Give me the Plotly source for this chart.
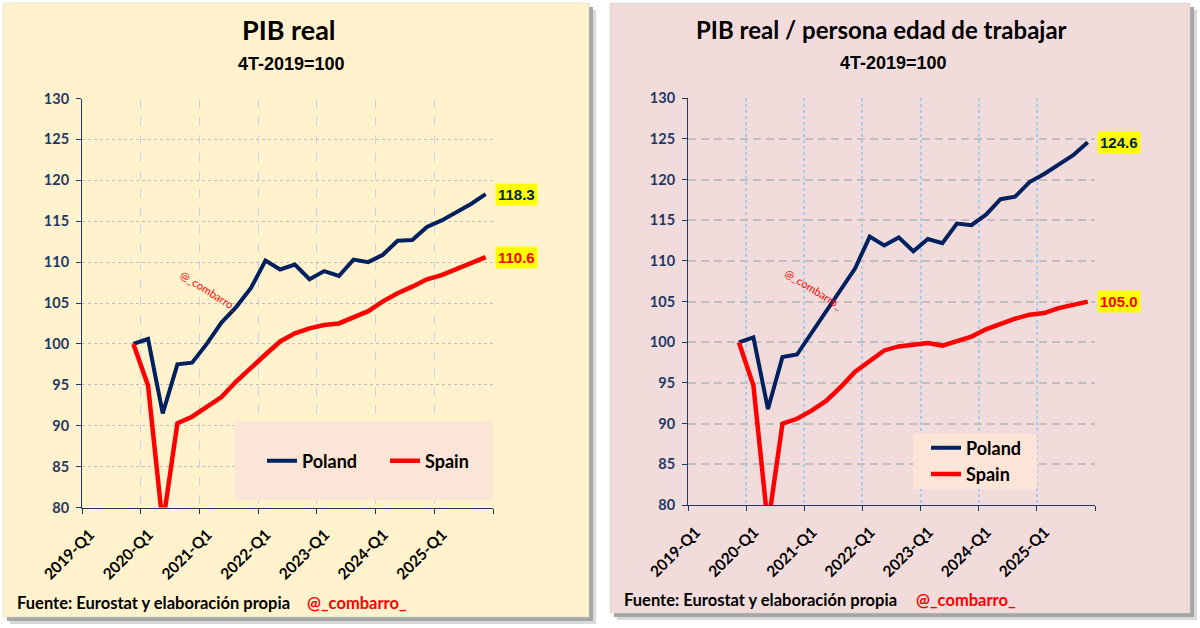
import plotly.graph_objects as go

# ---------------- data ----------------
quarters = ["2019-Q4",
            "2020-Q1", "2020-Q2", "2020-Q3", "2020-Q4",
            "2021-Q1", "2021-Q2", "2021-Q3", "2021-Q4",
            "2022-Q1", "2022-Q2", "2022-Q3", "2022-Q4",
            "2023-Q1", "2023-Q2", "2023-Q3", "2023-Q4",
            "2024-Q1", "2024-Q2", "2024-Q3", "2024-Q4",
            "2025-Q1", "2025-Q2", "2025-Q3", "2025-Q4"]

tick_labels = ["2019-Q1", "2020-Q1", "2021-Q1", "2022-Q1", "2023-Q1", "2024-Q1", "2025-Q1"]
axis_end = "2026-Q1"

gdp_poland = [100.0, 100.6, 91.5, 97.5, 97.7, 100.0, 102.6, 104.5, 106.8, 110.2, 109.1, 109.7,
              107.9, 108.9, 108.3, 110.3, 110.0, 110.9, 112.6, 112.7, 114.3, 115.1, 116.1, 117.1, 118.3]
gdp_spain = [100.0, 94.9, 77.9, 90.3, 91.1, 92.3, 93.5, 95.4, 97.1, 98.7, 100.3, 101.3,
             101.9, 102.3, 102.5, 103.3, 104.0, 105.2, 106.2, 107.0, 107.9, 108.4, 109.1, 109.9, 110.6]

wa_poland = [100.0, 100.6, 91.8, 98.2, 98.5, 101.2, 103.9, 106.6, 109.1, 113.0, 111.9, 112.9,
             111.2, 112.7, 112.2, 114.6, 114.4, 115.7, 117.6, 117.9, 119.7, 120.7, 121.8, 123.0, 124.6]
wa_spain = [100.0, 94.7, 77.5, 90.0, 90.6, 91.6, 92.8, 94.5, 96.4, 97.7, 99.0, 99.5,
            99.7, 99.9, 99.6, 100.2, 100.7, 101.6, 102.3, 102.9, 103.4, 103.6, 104.2, 104.6, 105.0]

series_names = ["Poland", "Spain"]
titles = ["PIB real", "PIB real / persona edad de trabajar"]
subtitle = "4T-2019=100"
source = "Fuente: Eurostat y elaboración propia"
handle = "@_combarro_"

# ---------------- style ----------------
W, H = 1200, 628
NAVY = "#002060"
RED = "#FF0000"
AXIS = "#1F3864"
CAL = "Lato"
ARIAL = "Liberation Sans"


def qpos(q):
    """Position on the quarterly scale: category start = integer, centre = +0.5."""
    y, n = q.split("-Q")
    return (int(y) - 2019) * 4 + (int(n) - 1)


xs = [qpos(q) + 0.5 for q in quarters]
tickvals = [qpos(t) for t in tick_labels] + [qpos(axis_end)]
ticktext = tick_labels + [""]


def px(x):
    return x / W


def py(y):
    return 1 - y / H


fig = go.Figure()

panels = [
    dict(xa="x", ya="y", pol=gdp_poland, spa=gdp_spain, legend="legend"),
    dict(xa="x2", ya="y2", pol=wa_poland, spa=wa_spain, legend="legend2"),
]

for p in panels:
    for name, vals, col, w in [(series_names[0], p["pol"], NAVY, 4),
                               (series_names[1], p["spa"], RED, 4.5)]:
        fig.add_trace(go.Scatter(x=xs, y=vals, mode="lines", name=name,
                                 line=dict(color=col, width=w),
                                 xaxis=p["xa"], yaxis=p["ya"], legend=p["legend"],
                                 hoverinfo="skip"))

xaxis_common = dict(range=[qpos(tick_labels[0]), qpos(axis_end)], tickmode="array",
                    tickvals=tickvals, ticktext=ticktext, tickangle=-45,
                    ticks="outside", ticklen=5, tickcolor=AXIS, showline=True,
                    linecolor=AXIS, linewidth=1, zeroline=False, automargin=False,
                    ticklabelshift=8, ticklabelstandoff=6,
                    tickfont=dict(family=CAL, size=15.5, color="#000000", weight="bold"),
                    fixedrange=True)
yaxis_common = dict(range=[80, 130], dtick=5, ticks="outside", ticklen=5, tickcolor=AXIS,
                    showline=True, linecolor=AXIS, linewidth=1, zeroline=False,
                    automargin=False, ticklabelstandoff=4,
                    tickfont=dict(family=CAL, size=14.5, color=AXIS, weight="bold"),
                    fixedrange=True)

fig.update_layout(
    template="none",
    xaxis=dict(**xaxis_common, domain=[px(82), px(493)], anchor="y",
               showgrid=True, gridcolor="#C5D5EE", griddash="dash", gridwidth=1),
    yaxis=dict(**yaxis_common, domain=[py(507.5), py(98.5)], anchor="x",
               showgrid=True, gridcolor="#BFBFBF", griddash="dot", gridwidth=1),
    xaxis2=dict(**xaxis_common, domain=[px(688), px(1095)], anchor="y2",
                showgrid=True, gridcolor="#A9CBEB", griddash="dot", gridwidth=1.5),
    yaxis2=dict(**yaxis_common, domain=[py(505), py(98.3)], anchor="x2",
                showgrid=True, gridcolor="#BFBFBF", griddash="8px,5px", gridwidth=2),
)

shapes = []
# panel shadows and backgrounds
for (x0, y0, x1, y1, fill) in [(3, 3, 589, 617, "#FFF2CC"), (610, 3, 1190, 613, "#F2DCDB")]:
    shapes.append(dict(type="rect", xref="paper", yref="paper", layer="below",
                       x0=px(x0 + 7), x1=px(x1 + 7), y0=py(y0 + 7), y1=py(y1 + 7),
                       fillcolor="#D9D9D9", line=dict(width=0)))
    shapes.append(dict(type="rect", xref="paper", yref="paper", layer="below",
                       x0=px(x0 + 4), x1=px(x1 + 4), y0=py(y0 + 4), y1=py(y1 + 4),
                       fillcolor="#A6A6A6", line=dict(width=0)))
    shapes.append(dict(type="rect", xref="paper", yref="paper", layer="below",
                       x0=px(x0), x1=px(x1), y0=py(y0), y1=py(y1),
                       fillcolor=fill, line=dict(color="#D0D0D0", width=0.5)))
# legend boxes
shapes.append(dict(type="rect", xref="paper", yref="paper", layer="above",
                   x0=px(234), x1=px(493), y0=py(421), y1=py(500),
                   fillcolor="#FBE5D6", line=dict(width=0)))
shapes.append(dict(type="rect", xref="paper", yref="paper", layer="above",
                   x0=px(913), x1=px(1037), y0=py(434), y1=py(489),
                   fillcolor="#FCE4D6", line=dict(width=0)))

annotations = []
for c, t, ty, tsize, sc, sy in [(289, titles[0], 29.5, 27, 291, 64),
                                (881, titles[1], 30, 24, 893, 63)]:
    annotations.append(dict(text=t, x=px(c), y=py(ty), xref="paper", yref="paper",
                            showarrow=False, xanchor="center", yanchor="middle",
                            font=dict(family=CAL, size=tsize, color="#000000", weight="bold")))
    annotations.append(dict(text=subtitle, x=px(sc), y=py(sy), xref="paper", yref="paper",
                            showarrow=False, xanchor="center", yanchor="middle",
                            font=dict(family=ARIAL, size=18, color="#000000", weight="bold")))

# footers
for fx, hx, fy in [(15, 305, 603), (622, 914, 600)]:
    annotations.append(dict(text=source, x=px(fx), y=py(fy), xref="paper", yref="paper",
                            showarrow=False, xanchor="left", yanchor="middle",
                            font=dict(family=CAL, size=16.5, color="#000000", weight="bold")))
    annotations.append(dict(text=handle, x=px(hx), y=py(fy), xref="paper", yref="paper",
                            showarrow=False, xanchor="left", yanchor="middle",
                            font=dict(family=CAL, size=16.5, color=RED, weight="bold")))

# watermark inside charts
for wx, wy in [(209, 290), (813, 289)]:
    annotations.append(dict(text=handle, x=px(wx), y=py(wy), xref="paper", yref="paper",
                            showarrow=False, textangle=32, xanchor="center", yanchor="middle",
                            font=dict(family=CAL, size=11, color=RED)))

# end-of-line value labels
for p in panels:
    for vals, col in [(p["pol"], NAVY), (p["spa"], RED)]:
        annotations.append(dict(text=f"{vals[-1]:.1f}", x=xs[-1], y=vals[-1],
                                xref=p["xa"], yref=p["ya"], showarrow=False,
                                xanchor="left", yanchor="middle", xshift=9,
                                bgcolor="#FFFF00", borderpad=2,
                                font=dict(family=ARIAL, size=15, color=col, weight="bold")))

fig.update_layout(
    width=W, height=H, autosize=False,
    margin=dict(l=0, r=0, t=0, b=0, pad=0, autoexpand=False),
    paper_bgcolor="#FFFFFF", plot_bgcolor="rgba(0,0,0,0)",
    shapes=shapes, annotations=annotations,
    showlegend=True,
    legend=dict(x=px(262), y=py(461), xanchor="left", yanchor="middle",
                orientation="h", entrywidth=78, entrywidthmode="pixels",
                bgcolor="rgba(0,0,0,0)", itemwidth=30,
                font=dict(family=CAL, size=18, color="#000000", weight="bold")),
    legend2=dict(x=px(926), y=py(461), xanchor="left", yanchor="middle",
                 orientation="v", bgcolor="rgba(0,0,0,0)", itemwidth=30,
                 font=dict(family=CAL, size=18, color="#000000", weight="bold")),
)

fig.write_html("out.html")
